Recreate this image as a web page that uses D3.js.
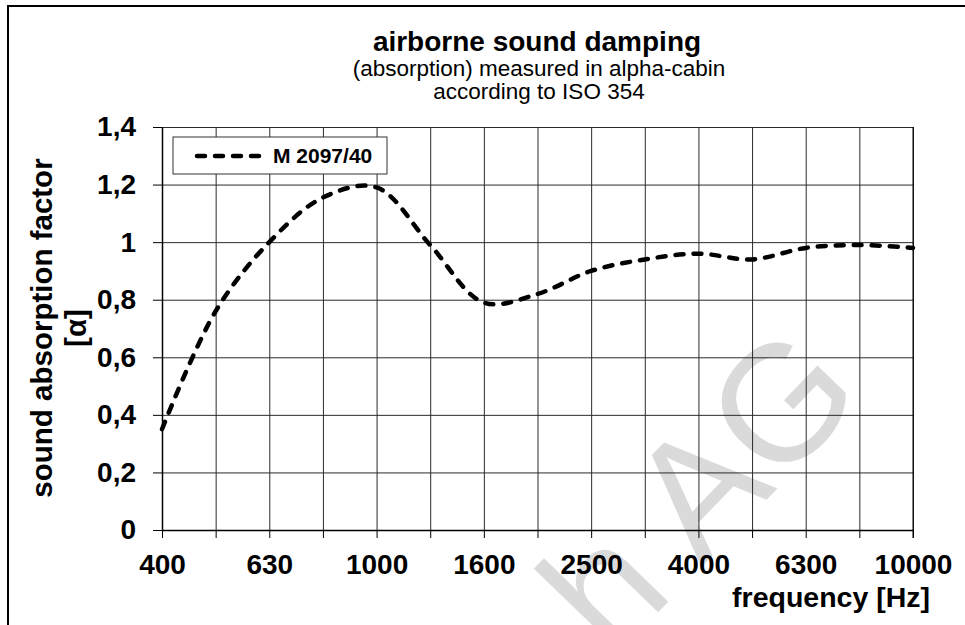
<!DOCTYPE html>
<html>
<head>
<meta charset="utf-8">
<script src="https://cdnjs.cloudflare.com/ajax/libs/d3/7.8.5/d3.min.js"></script>
<style>
  body { margin: 0; background: #fff; }
  text { font-family: "Liberation Sans", Arial, sans-serif; }
</style>
</head>
<body>
<div class="chart"></div>
<script>
var svgWidth = 965;
var svgHeight = 625;

var margin = { top: 127, right: 52, bottom: 95, left: 162 };

var width = svgWidth - margin.left - margin.right;
var height = svgHeight - margin.top - margin.bottom;

// third-octave bands and measured values
var frequencies = ["400", "500", "630", "800", "1000", "1250", "1600", "2000",
  "2500", "3150", "4000", "5000", "6300", "8000", "10000"];
var absorption = [0.35, 0.76, 1.0, 1.155, 1.19, 0.99, 0.79, 0.82,
  0.90, 0.94, 0.96, 0.94, 0.98, 0.99, 0.98];
var xLabels = ["400", "630", "1000", "1600", "2500", "4000", "6300", "10000"];
var yTicks = [0, 0.2, 0.4, 0.6, 0.8, 1.0, 1.2, 1.4];
var seriesName = "M 2097/40";

var svg = d3.select(".chart")
  .append("svg")
  .attr("width", svgWidth)
  .attr("height", svgHeight);

// frame (only top and left edge are inside the picture)
svg.append("rect")
  .attr("x", 8)
  .attr("y", 6)
  .attr("width", svgWidth)
  .attr("height", svgHeight)
  .attr("fill", "none")
  .attr("stroke", "#000")
  .attr("stroke-width", 2);

// watermark
svg.append("text")
  .attr("transform", "translate(612,660) rotate(-46)")
  .attr("font-size", 165)
  .attr("fill", "#dadada")
  .text("h AG");

var chartGroup = svg.append("g")
  .attr("transform", `translate(${margin.left}, ${margin.top})`);

var xScale = d3.scalePoint()
  .domain(frequencies)
  .range([0, width]);

var yScale = d3.scaleLinear()
  .domain([0, 1.4])
  .range([height, 0]);

// grid
chartGroup.append("g")
  .attr("class", "grid")
  .call(d3.axisLeft(yScale).tickValues(yTicks).tickSize(-width).tickFormat(""))
  .call(g => g.select(".domain").remove())
  .call(g => g.selectAll("line").attr("stroke", "#2a2a2a"));

chartGroup.append("g")
  .attr("class", "grid")
  .call(d3.axisTop(xScale).tickSize(-height).tickFormat(""))
  .call(g => g.select(".domain").remove())
  .call(g => g.selectAll("line").attr("stroke", "#2a2a2a"));

// axes
var bottomAxis = d3.axisBottom(xScale)
  .tickSizeInner(8)
  .tickSizeOuter(0)
  .tickPadding(16)
  .tickFormat(d => xLabels.includes(d) ? d : "");

var leftAxis = d3.axisLeft(yScale)
  .tickValues(yTicks)
  .tickSizeInner(9)
  .tickSizeOuter(0)
  .tickPadding(17)
  .tickFormat(d => d3.format("~g")(d).replace(".", ","));

var xAxis = chartGroup.append("g")
  .attr("transform", `translate(0, ${height})`)
  .call(bottomAxis);

var yAxis = chartGroup.append("g")
  .call(leftAxis);

[xAxis, yAxis].forEach(ax => {
  ax.select(".domain").attr("stroke", "#000").attr("stroke-width", 1.5);
  ax.selectAll("line").attr("stroke", "#000");
  ax.selectAll("text")
    .attr("fill", "#000")
    .attr("font-family", "Liberation Sans, Arial, sans-serif")
    .attr("font-weight", "bold")
    .attr("font-size", 28);
});
xAxis.selectAll("text").attr("dy", "0.71em");

// right edge of plot
chartGroup.append("line")
  .attr("x1", width).attr("x2", width)
  .attr("y1", 0).attr("y2", height + 8)
  .attr("stroke", "#000");

// curve
var line = d3.line()
  .x((d, i) => xScale(frequencies[i]))
  .y(d => yScale(d))
  .curve(d3.curveCatmullRom);

chartGroup.append("path")
  .datum(absorption)
  .attr("d", line)
  .attr("fill", "none")
  .attr("stroke", "#000")
  .attr("stroke-width", 4.5)
  .attr("stroke-linecap", "round")
  .attr("stroke-dasharray", "8,10");

// legend
var legend = chartGroup.append("g")
  .attr("transform", "translate(11, 10)");

legend.append("rect")
  .attr("width", 214)
  .attr("height", 37)
  .attr("fill", "#fff")
  .attr("stroke", "#333");

legend.append("line")
  .attr("x1", 24).attr("x2", 96)
  .attr("y1", 19).attr("y2", 19)
  .attr("stroke", "#000")
  .attr("stroke-width", 4.5)
  .attr("stroke-linecap", "round")
  .attr("stroke-dasharray", "8,10");

legend.append("text")
  .attr("x", 100)
  .attr("y", 26)
  .attr("font-weight", "bold")
  .attr("font-size", 21)
  .text(seriesName);

// titles
svg.append("text")
  .attr("x", 537)
  .attr("y", 51)
  .attr("text-anchor", "middle")
  .attr("font-weight", "bold")
  .attr("font-size", 28)
  .text("airborne sound damping");

svg.append("text")
  .attr("x", 539)
  .attr("y", 76)
  .attr("text-anchor", "middle")
  .attr("font-size", 22.5)
  .text("(absorption) measured in alpha-cabin");

svg.append("text")
  .attr("x", 539)
  .attr("y", 99)
  .attr("text-anchor", "middle")
  .attr("font-size", 22.5)
  .text("according to ISO 354");

var yTitle = svg.append("text")
  .attr("transform", "translate(52, 328) rotate(-90)")
  .attr("text-anchor", "middle")
  .attr("font-weight", "bold")
  .attr("font-size", 29.5);
yTitle.append("tspan").attr("x", 0).attr("y", 0).text("sound absorption factor");
yTitle.append("tspan").attr("x", 0).attr("y", 34).text("[α]");

svg.append("text")
  .attr("x", 930)
  .attr("y", 607)
  .attr("text-anchor", "end")
  .attr("font-weight", "bold")
  .attr("font-size", 28.5)
  .text("frequency [Hz]");
</script>
</body>
</html>
